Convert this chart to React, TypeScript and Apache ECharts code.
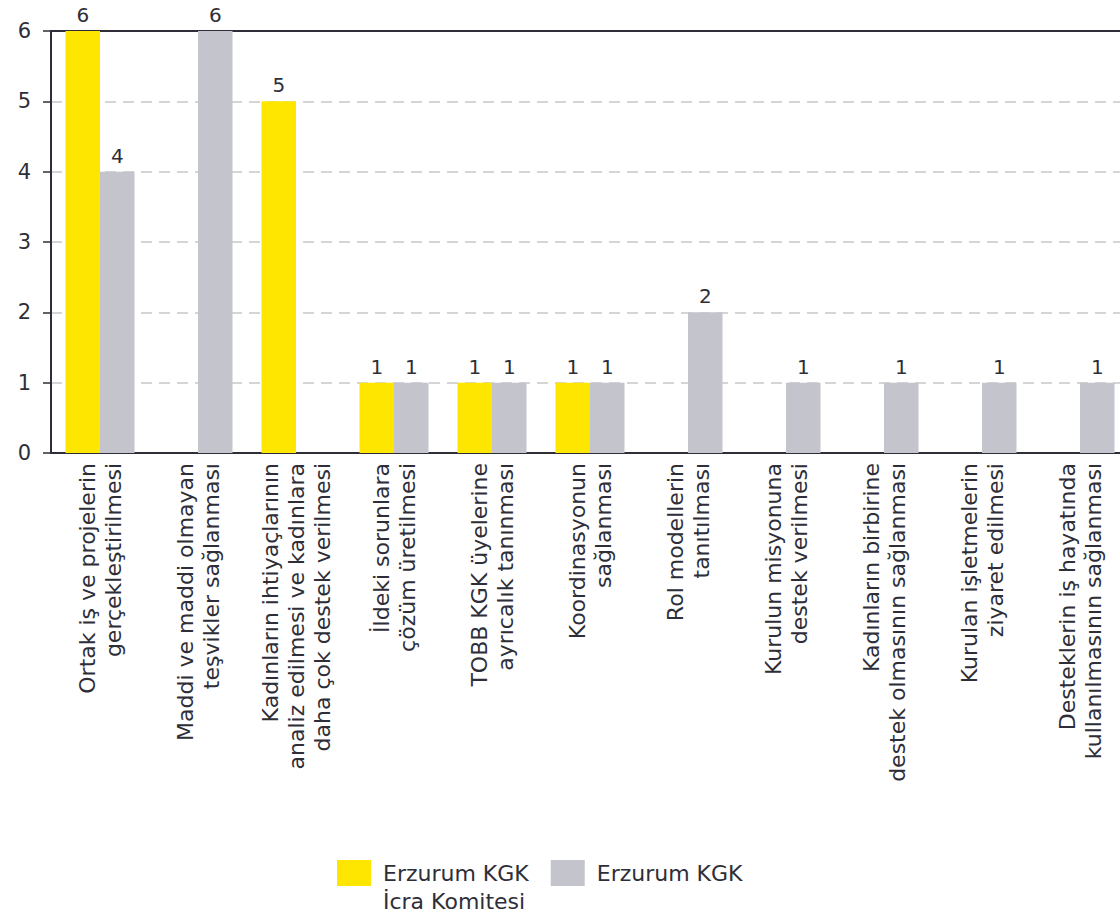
import React, { useEffect, useRef } from "react";
import * as echarts from "echarts";

const categories = [
  "Ortak iş ve projelerin\ngerçekleştirilmesi",
  "Maddi ve maddi olmayan\nteşvikler sağlanması",
  "Kadınların ihtiyaçlarının\nanaliz edilmesi ve kadınlara\ndaha çok destek verilmesi",
  "İldeki sorunlara\nçözüm üretilmesi",
  "TOBB KGK üyelerine\nayrıcalık tanınması",
  "Koordinasyonun\nsağlanması",
  "Rol modellerin\ntanıtılması",
  "Kurulun misyonuna\ndestek verilmesi",
  "Kadınların birbirine\ndestek olmasının sağlanması",
  "Kurulan işletmelerin\nziyaret edilmesi",
  "Desteklerin iş hayatında\nkullanılmasının sağlanması",
];

const icraKomitesi = [6, null, 5, 1, 1, 1, null, null, null, null, null];
const erzurumKGK = [4, 6, null, 1, 1, 1, 2, 1, 1, 1, 1];

const seriesNames = ["Erzurum KGK\nİcra Komitesi", "Erzurum KGK"];
const yTicks = { min: 0, max: 6, interval: 1 };

const TEXT = "#2e2e38";
const FONT = "'DejaVu Sans', sans-serif";

export default function App() {
  const ref = useRef<HTMLDivElement>(null);
  useEffect(() => {
    if (!ref.current) return;
    const chart = echarts.init(ref.current, null, { renderer: "svg" });
    const labelCfg = {
      show: true,
      position: "top",
      distance: 6,
      fontSize: 20,
      color: TEXT,
      fontFamily: FONT,
    };
    chart.setOption({
      animation: false,
      backgroundColor: "#ffffff",
      grid: { left: 51, top: 31, width: 1078, height: 422, containLabel: false },
      legend: {
        left: 332,
        top: 826,
        icon: "rect",
        itemWidth: 34,
        itemHeight: 26,
        itemGap: 22,
        textStyle: { fontSize: 22, color: TEXT, fontFamily: FONT, lineHeight: 28 },
        formatter: (name: string) => {
          const lines = name.split("\n").map((l) => " " + l);
          return lines.length > 1 ? [" ", ...lines].join("\n") : lines.join("\n");
        },
        data: seriesNames,
      },
      xAxis: [
        {
          type: "category",
          data: categories,
          axisLine: { show: true, lineStyle: { color: TEXT, width: 2 } },
          axisTick: { show: false },
          axisLabel: {
            rotate: 90,
            interval: 0,
            margin: 10,
            fontSize: 22,
            lineHeight: 26,
            color: TEXT,
            fontFamily: FONT,
          },
        },
        {
          type: "category",
          data: categories,
          position: "top",
          axisLine: { show: true, lineStyle: { color: TEXT, width: 2 } },
          axisTick: { show: false },
          axisLabel: { show: false },
        },
      ],
      yAxis: {
        type: "value",
        min: yTicks.min,
        max: yTicks.max,
        interval: yTicks.interval,
        axisLine: { show: true, lineStyle: { color: TEXT, width: 2 } },
        axisTick: { show: true, length: 8, lineStyle: { color: TEXT, width: 1.5 } },
        axisLabel: { fontSize: 21, color: TEXT, fontFamily: FONT, margin: 20 },
        splitLine: {
          show: true,
          lineStyle: { color: "#c8c8c8", type: [11, 7], width: 1.5 },
        },
      },
      series: [
        {
          name: seriesNames[0],
          type: "bar",
          data: icraKomitesi,
          barWidth: 34.5,
          barGap: "0%",
          itemStyle: { color: "#ffe600" },
          label: labelCfg,
        },
        {
          name: seriesNames[1],
          type: "bar",
          data: erzurumKGK,
          barWidth: 34.5,
          barGap: "0%",
          itemStyle: { color: "#c4c4cd" },
          label: labelCfg,
        },
      ],
    });
    return () => chart.dispose();
  }, []);
  return (
    <div
      style={{
        position: "fixed",
        left: 0,
        top: 0,
        width: 1120,
        height: 916,
        overflow: "hidden",
        background: "#fff",
      }}
    >
      <div ref={ref} style={{ width: 1140, height: 916 }} />
    </div>
  );
}
